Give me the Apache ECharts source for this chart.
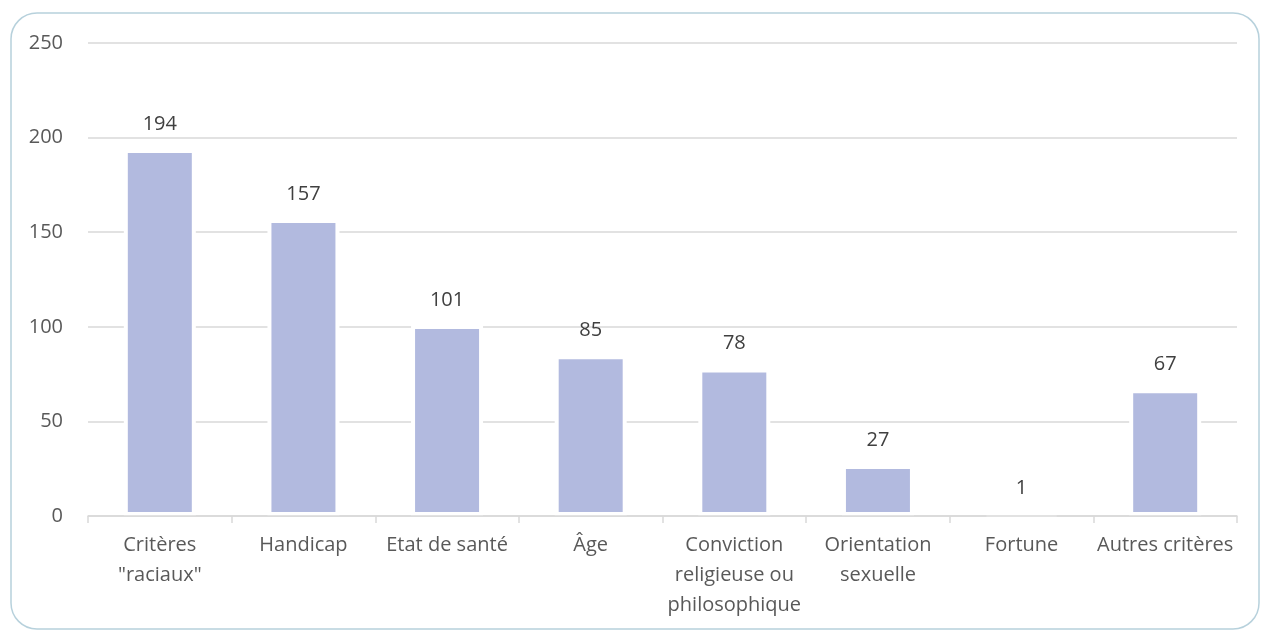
<!DOCTYPE html>
<html>
<head>
<meta charset="utf-8">
<title>Réclamations par critère</title>
<script src="https://cdn.jsdelivr.net/npm/echarts@6/dist/echarts.min.js"></script>
<style>
  html, body { margin: 0; padding: 0; background: #ffffff; }
  #chart { width: 1261px; height: 631px; }
</style>
</head>
<body>
<div id="chart"></div>
<script>
// Categories (x axis) and number of cases per criterion
const categories = [
  'Critères\n"raciaux"',
  'Handicap',
  'Etat de santé',
  'Âge',
  'Conviction\nreligieuse ou\nphilosophique',
  'Orientation\nsexuelle',
  'Fortune',
  'Autres critères'
];
const values = [194, 157, 101, 85, 78, 27, 1, 67];
const yTicks = [0, 50, 100, 150, 200, 250];

const FONT = '"Open Sans", "Noto Sans", sans-serif';

const chart = echarts.init(document.getElementById('chart'), null, { renderer: 'canvas' });

chart.setOption({
  animation: false,
  backgroundColor: '#ffffff',
  graphic: [{
    type: 'rect',
    shape: { x: 11, y: 13, width: 1248, height: 616, r: 26 },
    style: { fill: 'none', stroke: '#b7d1dc', lineWidth: 1.5 },
    z: -1
  }],
  grid: { left: 88, right: 24, top: 43, bottom: 115, containLabel: false },
  xAxis: {
    type: 'category',
    data: categories,
    boundaryGap: true,
    z: 5,
    axisLine: { show: true, lineStyle: { color: '#d9d9d9', width: 1.5 } },
    axisTick: { show: true, length: 7, alignWithLabel: false, lineStyle: { color: '#d9d9d9', width: 1.5 } },
    axisLabel: {
      interval: 0,
      margin: 14,
      color: '#595959',
      fontFamily: FONT,
      fontSize: 20,
      lineHeight: 30
    }
  },
  yAxis: {
    type: 'value',
    min: yTicks[0],
    max: yTicks[yTicks.length - 1],
    interval: 50,
    axisLine: { show: false },
    axisTick: { show: false },
    splitLine: { lineStyle: { color: '#d9d9d9', width: 1.5 } },
    axisLabel: {
      margin: 25,
      color: '#595959',
      fontFamily: FONT,
      fontSize: 20
    }
  },
  series: [{
    type: 'bar',
    data: values,
    barWidth: 72,
    itemStyle: { color: '#b2badf', borderColor: '#ffffff', borderWidth: 4 },
    label: {
      show: true,
      position: 'top',
      distance: 15,
      color: '#404040',
      fontFamily: FONT,
      fontSize: 20
    }
  }]
});
</script>
</body>
</html>
